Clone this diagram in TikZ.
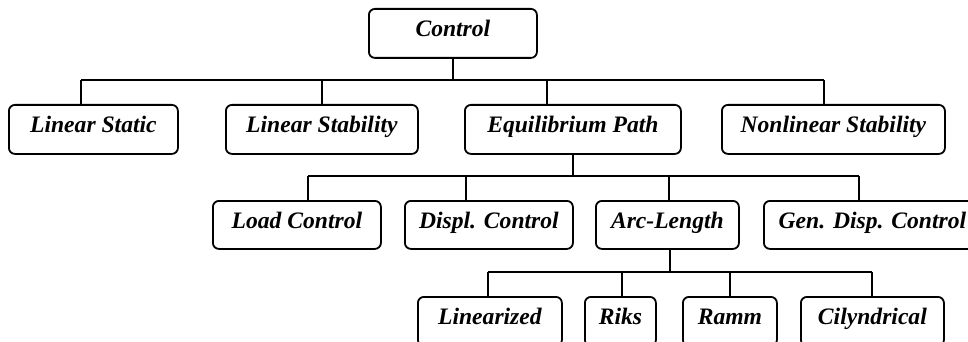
\documentclass[tikz,border=0pt]{standalone}
\usepackage{fontspec}
\setmainfont{Liberation Serif}
\usepackage{tikz}
\usetikzlibrary{positioning}

\begin{document}
\begin{tikzpicture}[x=0.5pt,y=-0.5pt,
  box/.style={draw,line width=0.9pt,rounded corners=3pt,anchor=north west,
    minimum height=24.5pt,inner sep=0pt,text height=8pt,text depth=4.5pt,
    font=\fontsize{11.8}{13}\selectfont\bfseries\itshape},
  link/.style={line width=0.9pt}]
  \useasboundingbox (0,0) rectangle (968,342);
  \clip (0,0) rectangle (968,342);
  % top
  \node[box,minimum width=84pt] (ctrl) at (368,8) {Control};
  % first level
  \node[box,minimum width=84.5pt] (lstat) at (8,104) {Linear Static};
  \node[box,minimum width=96pt] (lstab) at (225,104) {Linear Stability};
  \node[box,minimum width=108pt] (eqp) at (464,104) {Equilibrium Path};
  \node[box,minimum width=111.5pt] (nlstab) at (721,104) {Nonlinear Stability};
  % second level
  \node[box,minimum width=84pt,minimum height=24pt] (load) at (212,200) {Load Control};
  \node[box,minimum width=84pt,minimum height=24pt] (displ) at (404,200) {Displ. Control};
  \node[box,minimum width=71.5pt,minimum height=24pt] (arc) at (595,200) {Arc-Length};
  \node[box,minimum width=108.5pt,minimum height=24pt] (gdc) at (763,200) {Gen. Disp. Control};
  % third level
  \node[box,minimum width=72pt] (lin) at (417,296) {Linearized};
  \node[box,minimum width=35.5pt] (riks) at (584,296) {Riks};
  \node[box,minimum width=47pt] (ramm) at (682,296) {Ramm};
  \node[box,minimum width=71.5pt] (cil) at (800,296) {Cilyndrical};
  % bars
  \coordinate (bar1l) at (81,80);
  \coordinate (bar1r) at (824,80);
  \coordinate (bar2l) at (308,176);
  \coordinate (bar2r) at (859,176);
  \coordinate (bar3l) at (488,272);
  \coordinate (bar3r) at (872,272);
  \draw[link] (bar1l) -- (bar1r);
  \draw[link] (ctrl.south) -- (ctrl.south |- bar1l);
  \draw[link] (bar1l) -- (bar1l |- lstat.north);
  \draw[link] (bar1l -| lstab.north) -- (lstab.north);
  \draw[link] ([xshift=-13pt]eqp.north |- bar1l) -- ([xshift=-13pt]eqp.north);
  \draw[link] (bar1r) -- (bar1r |- nlstab.north);
  \draw[link] (bar2l) -- (bar2r);
  \draw[link] (eqp.south) -- (eqp.south |- bar2l);
  \draw[link] (bar2l) -- (bar2l |- load.north);
  \draw[link] ([xshift=-11.5pt]displ.north |- bar2l) -- ([xshift=-11.5pt]displ.north);
  \draw[link] ([xshift=0.75pt]arc.north |- bar2l) -- ([xshift=0.75pt]arc.north);
  \draw[link] (bar2r) -- (bar2r |- gdc.north);
  \draw[link] (bar3l) -- (bar3r);
  \draw[link] ([xshift=1.25pt]arc.south) -- ([xshift=1.25pt]arc.south |- bar3l);
  \draw[link] (bar3l) -- (bar3l |- lin.north);
  \draw[link] ([xshift=0.75pt]riks.north |- bar3l) -- ([xshift=0.75pt]riks.north);
  \draw[link] (bar3l -| ramm.north) -- (ramm.north);
  \draw[link] (bar3r) -- (bar3r |- cil.north);
\end{tikzpicture}
\end{document}
